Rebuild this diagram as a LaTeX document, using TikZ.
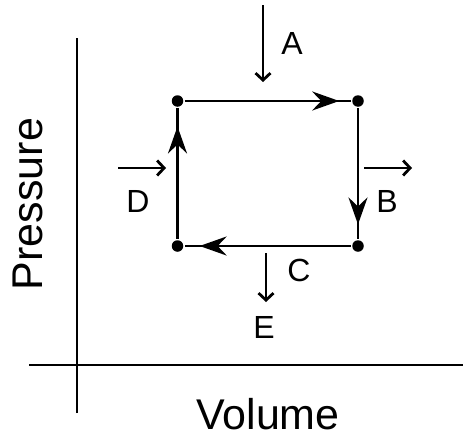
\documentclass[tikz,border=0pt]{standalone}
\usepackage{fontspec}
\setmainfont{Liberation Sans}
\usetikzlibrary{arrows.meta,decorations.markings}
\begin{document}
\begin{tikzpicture}[x=1pt,y=-1pt,
  line width=2.8pt,
  dot/.style={circle,fill=black,inner sep=0pt,minimum size=11.5pt},
  bigtip/.style={decoration={markings,mark=at position #1 with {\arrow{Stealth[length=27pt,width=19pt,inset=9pt]}}},postaction={decorate}},
  smallarrow/.style={-{Straight Barb[length=7pt,width=15pt]}},
  lab/.style={font=\fontsize{32}{38}\selectfont,inner sep=0pt},
  axlab/.style={font=\fontsize{43}{50}\selectfont,inner sep=0pt}]
\useasboundingbox (0,0) rectangle (463,439);
% axes
\coordinate (yb) at (77,413);
\coordinate (yt) at (77,38);
\coordinate (xl) at (29,365);
\coordinate (xr) at (463,365);
\draw (yb) -- (yt);
\draw (xl) -- (xr);
\node[axlab,rotate=90] (pl) at (28,204) {Pressure};
\node[axlab] (vl) at (268,414) {Volume};
% cycle
\node[dot] (tl) at (177.5,101) {};
\node[dot] (tr) at (358,101) {};
\node[dot] (br) at (358,246) {};
\node[dot] (bl) at (177.5,246) {};
\draw[bigtip=0.93] (tl) -- (tr);
\draw[bigtip=0.89] (tr) -- (br);
\draw[bigtip=0.91] (br) -- (bl);
\draw[bigtip=0.86] (bl) -- (tl);
% heat/work arrows
\coordinate (a1) at (263,5);
\coordinate (a2) at (263,82);
\draw[smallarrow] (a1) -- (a2);
\node[lab] (A) at (292,43) {A};
\coordinate (d1) at (118,168);
\coordinate (d2) at (166,168);
\draw[smallarrow] (d1) -- (d2);
\node[lab] (D) at (138,201) {D};
\coordinate (b1) at (364,168);
\coordinate (b2) at (412,168);
\draw[smallarrow] (b1) -- (b2);
\node[lab] (B) at (387,201) {B};
\coordinate (c1) at (266,253);
\coordinate (c2) at (266,302);
\draw[smallarrow] (c1) -- (c2);
\node[lab] (C) at (299,270) {C};
\node[lab] (E) at (264,327) {E};
\end{tikzpicture}
\end{document}
